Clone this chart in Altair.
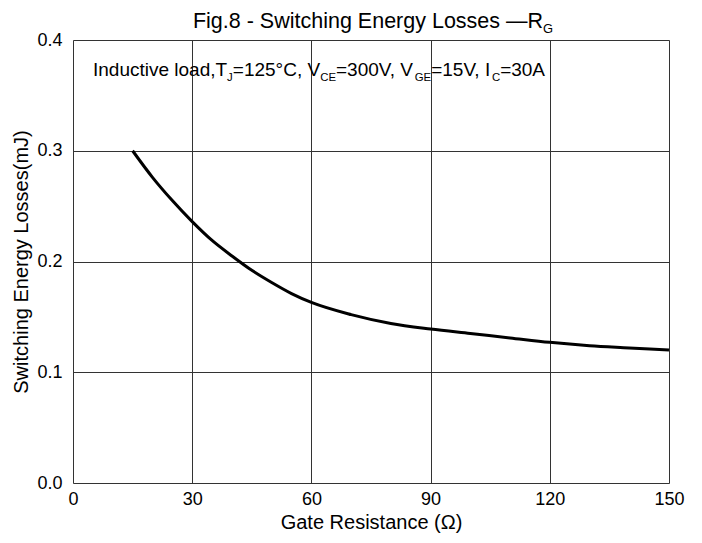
import altair as alt
import pandas as pd

# ---- data ----
rg = [15, 20, 25, 30, 35, 40, 45, 50, 55, 60, 70, 80, 90, 100, 110, 120, 130, 140, 150]
eloss = [0.300, 0.276, 0.255, 0.236, 0.219, 0.205, 0.192, 0.181, 0.171, 0.163,
         0.152, 0.144, 0.139, 0.135, 0.131, 0.127, 0.124, 0.122, 0.120]

x_ticks = [0, 30, 60, 90, 120, 150]
y_ticks = [0.0, 0.1, 0.2, 0.3, 0.4]

title_parts = [("Fig.8 - Switching Energy Losses \u2014R", False), ("G", True)]
note_parts = [("Inductive load,T", False), ("J", True), ("=125\u00b0C, V", False), ("CE", True),
              ("=300V, V", False), ("GE", True), ("=15V, I", False), ("C", True), ("=30A", False)]

FONT = "Liberation Sans"
W, H = 596, 443

# Arial advance widths (per 1000 em)
AW = {' ': 278, ',': 278, '.': 278, '-': 333, '=': 584, '\u00b0': 400, '(': 333, ')': 333,
      '\u2014': 1000, 'A': 667, 'C': 722, 'E': 667, 'F': 611, 'G': 778, 'I': 278, 'J': 500,
      'L': 556, 'R': 722, 'S': 667, 'T': 611, 'V': 667, 'a': 556, 'c': 500, 'd': 556, 'e': 556,
      'g': 556, 'h': 556, 'i': 222, 'l': 222, 'n': 556, 'o': 556, 'r': 333, 's': 500, 't': 278,
      'u': 556, 'v': 500, 'w': 722, 'y': 500}


def tw(s, fs):
    return sum(AW.get(ch, 556) for ch in s) * fs / 1000.0


def segments(parts, fs, x0, y0, center=False):
    sub = fs * 0.6
    widths = [tw(t, sub if s else fs) for t, s in parts]
    if center:
        x0 = x0 - sum(widths) / 2
    rows = []
    x = x0
    for (t, s), w in zip(parts, widths):
        rows.append({"t": t, "px": x, "py": y0 + (fs * 0.27 if s else 0), "fs": sub if s else fs})
        x += w
    return pd.DataFrame(rows)


df = pd.DataFrame({"rg": rg, "e": eloss})

title_df = segments(title_parts, 21.5, 300, -12.5, center=True)
note_df = segments(note_parts, 19, 20, 36)

base = alt.Chart(df)

curve = base.mark_line(color="black", strokeWidth=3, interpolate="monotone").encode(
    x=alt.X("rg:Q", scale=alt.Scale(domain=[0, 150], nice=False),
            axis=alt.Axis(values=x_ticks, title="Gate Resistance (\u03a9)", format="d",
                          grid=True, gridColor="#333", gridWidth=1, ticks=False,
                          domain=False, labelFont=FONT, labelFontSize=18, labelColor="black",
                          labelPadding=7, titleFont=FONT, titleFontSize=20,
                          titleFontWeight="normal", titleColor="black", titlePadding=4,
                          labelFlush=False)),
    y=alt.Y("e:Q", scale=alt.Scale(domain=[0, 0.4], nice=False),
            axis=alt.Axis(values=y_ticks, title="Switching Energy Losses(mJ)", format=".1f",
                          grid=True, gridColor="#333", gridWidth=1, ticks=False,
                          domain=False, labelFont=FONT, labelFontSize=18, labelColor="black",
                          labelPadding=11, titleFont=FONT, titleFontSize=20,
                          titleFontWeight="normal", titleColor="black", titlePadding=5,
                          labelFlush=False)),
)


def text_layer(d):
    return alt.Chart(d).mark_text(align="left", baseline="alphabetic", font=FONT,
                                  color="black").encode(
        x=alt.X("px:Q", scale=None, axis=None),
        y=alt.Y("py:Q", scale=None, axis=None),
        size=alt.Size("fs:Q", scale=None, legend=None),
        text="t:N",
    )


chart = alt.layer(curve, text_layer(title_df), text_layer(note_df)).properties(
    width=W, height=H,
    autosize=alt.AutoSizeParams(type="none"),
    padding={"left": 65, "top": 32, "right": 20, "bottom": 50},
).configure_view(stroke="#333", strokeWidth=1.2).configure(background="white")

chart.save("out.html", embed_options={"renderer": "svg", "actions": False})
